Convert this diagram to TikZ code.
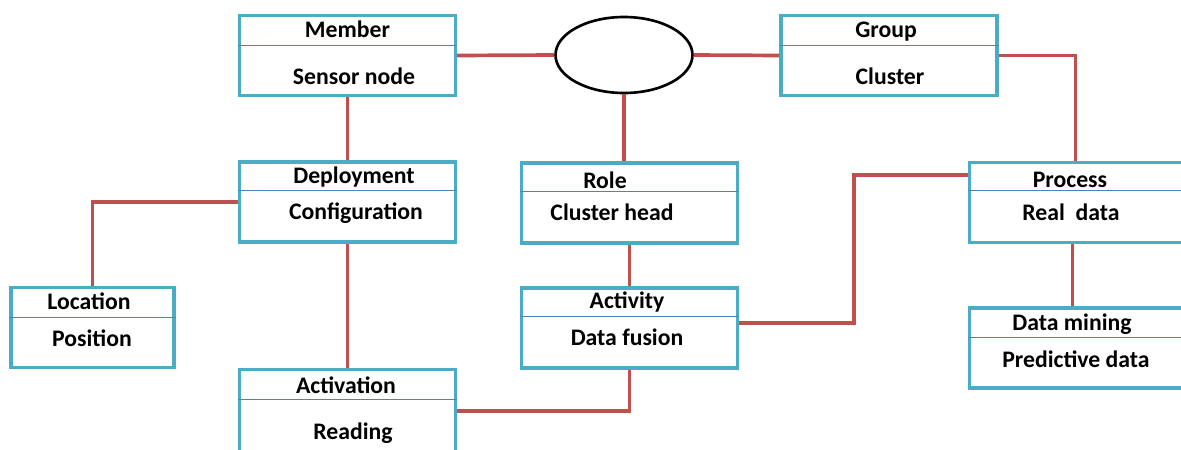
\documentclass[tikz,border=0pt]{standalone}
\usepackage{fontspec}
\setmainfont{Carlito}
\usetikzlibrary{calc,shapes.geometric}
\definecolor{boxblue}{HTML}{4BACC6}
\definecolor{linkred}{HTML}{C0504D}
\definecolor{splitblue}{HTML}{4F81BD}

\begin{document}
\begin{tikzpicture}[x=0.02cm, y=-0.02cm,
    box/.style={draw=boxblue, fill=white, line width=2pt, minimum width=4.32cm, minimum height=1.6cm, inner sep=0pt},
    hub/.style={ellipse, draw=black, line width=1.5pt, minimum width=2.74cm, minimum height=1.52cm, inner sep=0pt},
    txt/.style={font=\fontsize{13.5}{16}\selectfont\bfseries, inner sep=0pt, anchor=base},
    split/.style={draw=splitblue, line width=0.6pt},
    link/.style={draw=linkred, line width=2.1pt}]
    \useasboundingbox (0,0) rectangle (1181,450);

    \node [hub] (hub) at (624, 55) {};
    \node [box] (member) at (347.5, 55.5) {};
        \draw [split] ($(member.north west) + (0, 32)$) -- ($(member.north east) + (0, 32)$);
        \node [txt] (memberT) at (347.5, 37) {Member};
        \node [txt] (memberS) at (354, 84) {Sensor node};
    \node [box] (group) at (889, 55.5) {};
        \draw [split] ($(group.north west) + (0, 32)$) -- ($(group.north east) + (0, 32)$);
        \node [txt] (groupT) at (886, 37) {Group};
        \node [txt] (groupS) at (890, 84) {Cluster};
    \node [box] (deploy) at (347.5, 202) {};
        \draw [split] ($(deploy.north west) + (0, 30)$) -- ($(deploy.north east) + (0, 30)$);
        \node [txt] (deployT) at (354, 183) {Deployment};
        \node [txt] (deployS) at (356, 219) {Configuration};
    \node [box] (role) at (629.5, 203) {};
        \draw [split] ($(role.north west) + (0, 30)$) -- ($(role.north east) + (0, 30)$);
        \node [txt] (roleT) at (605, 188) {Role};
        \node [txt] (roleS) at (612, 220) {Cluster head};
    \node [box] (process) at (1077.5, 202.5) {};
        \draw [split] ($(process.north west) + (0, 30)$) -- ($(process.north east) + (0, 30)$);
        \node [txt] (processT) at (1070, 187) {Process};
        \node [txt] (processS) at (1071, 220) {Real~ data};
    \node [box, minimum width=3.26cm] (location) at (92.5, 327.5) {};
        \draw [split] ($(location.north west) + (0, 32)$) -- ($(location.north east) + (0, 32)$);
        \node [txt] (locationT) at (89, 309) {Location};
        \node [txt] (locationS) at (92, 346) {Position};
    \node [box] (activity) at (629.5, 328) {};
        \draw [split] ($(activity.north west) + (0, 30)$) -- ($(activity.north east) + (0, 30)$);
        \node [txt] (activityT) at (627, 308) {Activity};
        \node [txt] (activityS) at (627, 345) {Data fusion};
    \node [box, minimum height=1.78cm] (activation) at (347.5, 414) {};
        \draw [split] ($(activation.north west) + (0, 32)$) -- ($(activation.north east) + (0, 32)$);
        \node [txt] (activationT) at (346, 393) {Activation};
        \node [txt] (activationS) at (353, 439) {Reading};
    \node [box] (mining) at (1077.5, 348) {};
        \draw [split] ($(mining.north west) + (0, 31)$) -- ($(mining.north east) + (0, 31)$);
        \node [txt] (miningT) at (1072, 330) {Data mining};
        \node [txt] (miningS) at (1076, 367) {Predictive data};

    \coordinate (bend) at (854, 175);
    \draw [link] (member.east) -- (hub.west);
    \draw [link] (hub.east) -- (group.west);
    \draw [link] (group.east) -| ($(process.north) + (-2, 0)$);
    \draw [link] (hub.south) -- (hub.south |- role.north);
    \draw [link] (member.south) -- (deploy.north);
    \draw [link] (deploy.west) -| (location.north);
    \draw [link] (deploy.south) -- (activation.north);
    \draw [link] (role.south) -- (activity.north);
    \draw [link] ($(activity.east) + (0, -5)$) -| (bend) -- (bend -| process.west);
    \draw [link] ($(activation.east) + (0, -3)$) -| (activity.south);
    \draw [link] ($(process.south) + (-5, 0)$) -- ($(mining.north) + (-5, 0)$);
\end{tikzpicture}
\end{document}
